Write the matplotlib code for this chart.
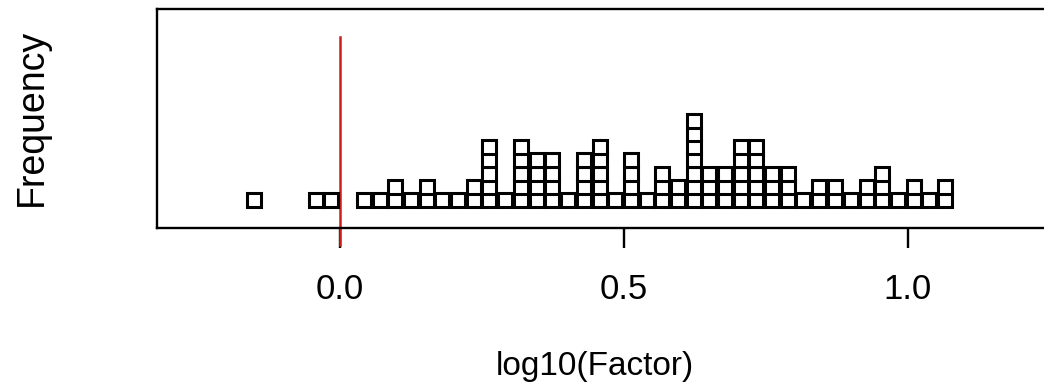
import numpy as np
import matplotlib
matplotlib.use("Agg")
import matplotlib.pyplot as plt

# column positions (log10 of factor) and how many points are stacked there
factor_log10 = [
    -0.151, -0.042, -0.015, 0.042, 0.070, 0.097, 0.125, 0.153, 0.180, 0.208,
    0.236, 0.263, 0.291, 0.319, 0.346, 0.374, 0.402, 0.429, 0.457, 0.485,
    0.512, 0.540, 0.567, 0.595, 0.623, 0.650, 0.678, 0.706, 0.733, 0.761,
    0.789, 0.816, 0.844, 0.871, 0.899, 0.927, 0.954, 0.982, 1.010, 1.037,
    1.065,
]
counts = [
    1, 1, 1, 1, 1, 2, 1, 2, 1, 1,
    2, 5, 1, 5, 4, 4, 1, 4, 5, 1,
    4, 1, 3, 2, 7, 3, 3, 5, 5, 3,
    3, 1, 2, 2, 1, 2, 3, 1, 2, 1,
    2,
]
ref_value = 0.0
tick_values = [0.0, 0.5, 1.0]
tick_labels = ["0.0", "0.5", "1.0"]

plt.rcParams["font.family"] = ["Liberation Sans", "DejaVu Sans"]

W, H = 1044, 384
fig = plt.figure(figsize=(W / 100, H / 100), dpi=100)

# plot box in pixels: left 157, top 9, bottom 228, runs off the right edge
left_px, right_px, top_px, bottom_px = 157, 1050, 9, 228
ax = fig.add_axes([
    left_px / W,
    1 - bottom_px / H,
    (right_px - left_px) / W,
    (bottom_px - top_px) / H,
])

# stack identical values like stripchart(method="stack")
xs = np.repeat(factor_log10, counts)
ys = np.concatenate([np.arange(c) for c in counts])

ax.plot(
    xs, ys,
    linestyle="none",
    marker="s",
    markersize=9.6,
    markerfacecolor="white",
    markeredgecolor="black",
    markeredgewidth=2.2,
    zorder=3,
)

x0_px, x1_px = 340, 908
px_per_unit = x1_px - x0_px
ax.set_xlim(
    (left_px - x0_px) / px_per_unit,
    (right_px - x0_px) / px_per_unit,
)
row0_px, row_pitch = 200, 13.2
ax.set_ylim(
    -(bottom_px - row0_px) / row_pitch,
    (row0_px - top_px) / row_pitch,
)

# red reference line at 0
ax.plot(
    [ref_value, ref_value],
    [(row0_px - 37) / row_pitch, -(245 - row0_px) / row_pitch],
    color="#cc1f1a",
    linewidth=1.8,
    clip_on=False,
    zorder=2,
)

ax.set_xticks(tick_values)
ax.set_xticklabels(tick_labels)
ax.set_yticks([])
ax.tick_params(axis="x", length=14.5, width=1.7, pad=18, labelsize=25)

for side in ["left", "right", "top", "bottom"]:
    ax.spines[side].set_linewidth(1.7)

ax.set_xlabel("log10(Factor)", fontsize=24, va="center")
ax.xaxis.set_label_coords(
    (595 - left_px) / (right_px - left_px),
    (bottom_px - 366) / (bottom_px - top_px),
)
ax.set_ylabel("Frequency", fontsize=27, va="center")
ax.yaxis.set_label_coords(
    (32 - left_px) / (right_px - left_px),
    (bottom_px - 117) / (bottom_px - top_px),
)

fig.savefig("out.png", dpi=100)
